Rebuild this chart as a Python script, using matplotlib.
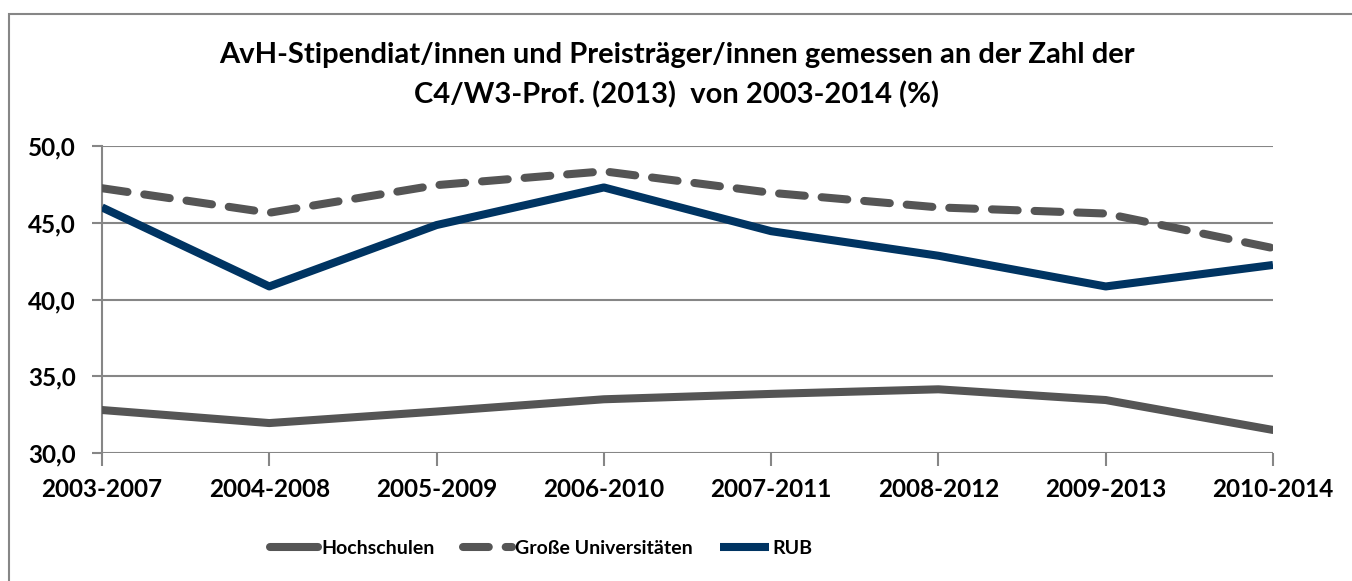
import matplotlib
matplotlib.use("Agg")
import matplotlib.pyplot as plt
from matplotlib.patches import Rectangle
from matplotlib.ticker import FuncFormatter
from matplotlib.font_manager import FontProperties

categories = ["2003-2007", "2004-2008", "2005-2009", "2006-2010",
              "2007-2011", "2008-2012", "2009-2013", "2010-2014"]
hochschulen = [32.8, 31.95, 32.7, 33.5, 33.85, 34.15, 33.45, 31.5]
grosse_unis = [47.25, 45.65, 47.45, 48.35, 46.95, 46.0, 45.6, 43.35]
rub = [46.0, 40.85, 44.85, 47.3, 44.45, 42.85, 40.85, 42.25]

title_lines = ["AvH-Stipendiat/innen und Preisträger/innen gemessen an der Zahl der",
               "C4/W3-Prof. (2013)  von 2003-2014 (%)"]

FONT = ['Lato', 'DejaVu Sans']
plt.rcParams['font.family'] = FONT
plt.rcParams['font.weight'] = 'bold'


def fp(size):
    return FontProperties(family=FONT, weight='bold', size=size)


W, H = 1352, 581
fig = plt.figure(figsize=(W / 100, H / 100), dpi=100)
fig.patch.set_facecolor('white')

# outer chart border
fig.patches.append(Rectangle((9 / W, -0.05), 1.2, 1 - 14 / H + 0.05,
                             transform=fig.transFigure, fill=False,
                             edgecolor='#868686', linewidth=1.5))

ax = fig.add_axes([102 / W, 1 - 453 / H, (1273 - 102) / W, (453 - 146) / H])
x = list(range(len(categories)))

grey = '#555555'
navy = '#003462'
lw = 5.8
ax.plot(x, hochschulen, color=grey, lw=lw, solid_capstyle='round',
        solid_joinstyle='round', label='Hochschulen', zorder=3)
ax.plot(x, grosse_unis, color=grey, lw=lw, dashes=(3.2, 2.1),
        dash_capstyle='round', dash_joinstyle='round',
        label='Große Universitäten', zorder=3)
ax.plot(x, rub, color=navy, lw=lw, solid_capstyle='butt',
        solid_joinstyle='round', label='RUB', zorder=4)

ax.set_xlim(0, len(categories) - 1)
ax.set_ylim(30, 50)
ax.set_yticks([30, 35, 40, 45, 50])
ax.yaxis.set_major_formatter(FuncFormatter(lambda v, p: f"{v:.1f}".replace('.', ',')))
ax.set_xticks(x)
ax.set_xticklabels(categories)
ax.grid(axis='y', color='#868686', linewidth=1.5, zorder=1)
for s in ['top', 'right', 'bottom']:
    ax.spines[s].set_visible(False)
ax.spines['left'].set_color('#868686')
ax.spines['left'].set_linewidth(1.5)
ax.tick_params(axis='both', colors='#868686', width=1.5, labelcolor='black')
ax.tick_params(axis='x', length=9, pad=9)
ax.tick_params(axis='y', length=7, pad=12)
for lab in ax.get_xticklabels() + ax.get_yticklabels():
    lab.set_fontproperties(fp(17.5))

fig.text(677 / W, 1 - 55 / H, title_lines[0], ha='center', va='center',
         fontproperties=fp(21))
fig.text(677 / W, 1 - 95 / H, title_lines[1], ha='center', va='center',
         fontproperties=fp(21))

leg = fig.legend(loc='center', bbox_to_anchor=(541 / W, 1 - 548 / H),
                 ncol=3, frameon=False, handlelength=2.5,
                 handletextpad=0.15, columnspacing=1.45, prop=fp(14))

fig.savefig('out.png', dpi=100, facecolor='white')
